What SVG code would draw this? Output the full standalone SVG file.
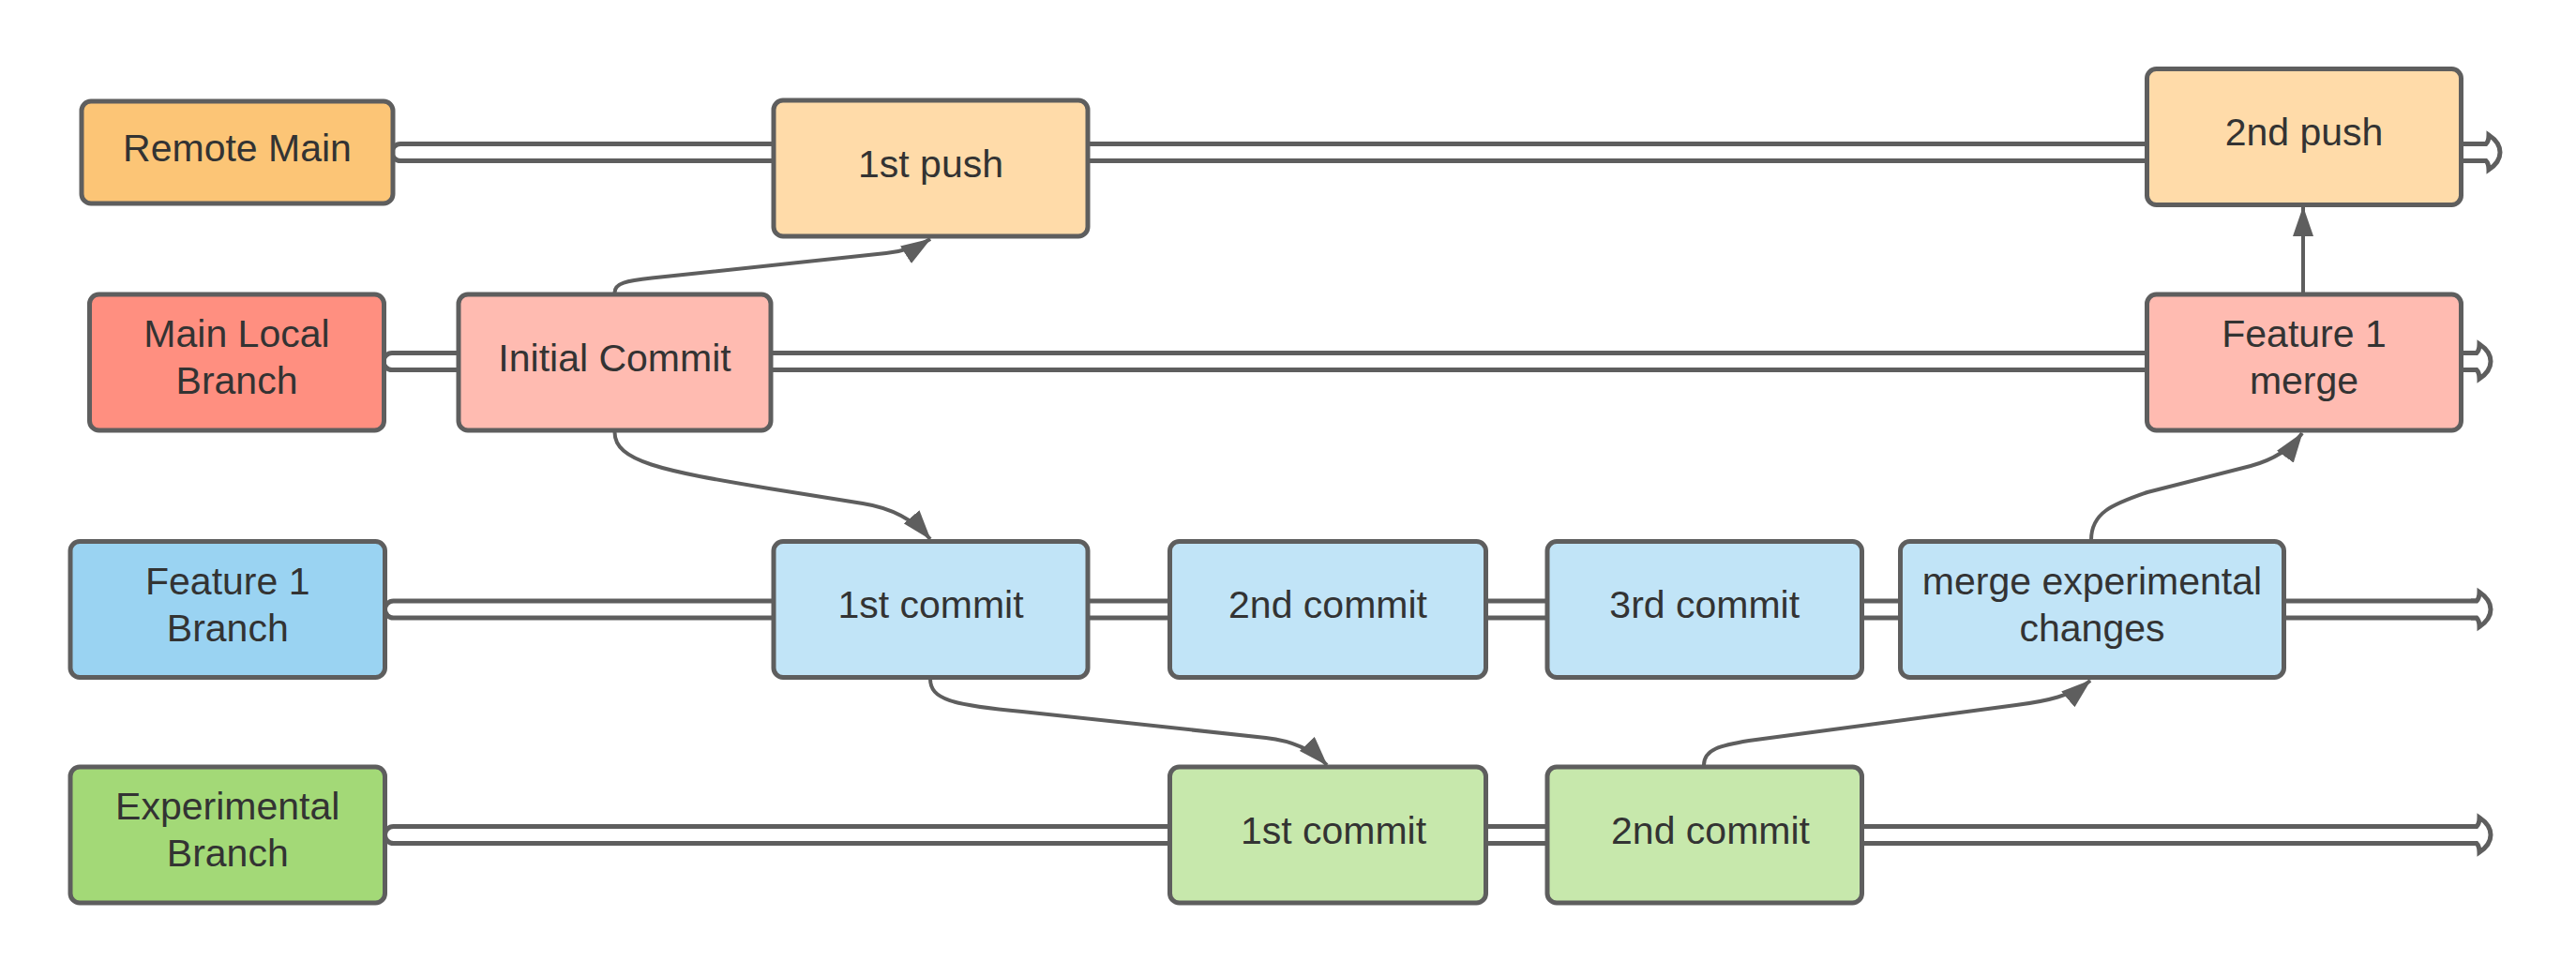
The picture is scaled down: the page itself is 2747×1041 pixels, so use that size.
<svg xmlns="http://www.w3.org/2000/svg" width="2747" height="1041" viewBox="0 0 2747 1041">
<style>
.node{stroke:#5e5e5e;stroke-width:5}
.lbl{font-family:"Liberation Sans",Arial,sans-serif;font-size:41px;fill:#333333;text-anchor:middle}
.rail-o{stroke:#5e5e5e;stroke-width:23;stroke-linecap:round;fill:none}
.rail-i{stroke:#ffffff;stroke-width:13;stroke-linecap:round;fill:none}
.head{fill:#ffffff;stroke:#5e5e5e;stroke-width:5;stroke-linejoin:miter}
.conn{fill:none;stroke:#5e5e5e;stroke-width:4;marker-end:url(#arr)}
.orD{fill:#FCC576}.orL{fill:#FFDBA9}
.rdD{fill:#FF8F80}.rdL{fill:#FFBBB1}
.blD{fill:#9AD3F2}.blL{fill:#C1E4F7}
.grD{fill:#A3D977}.grL{fill:#C7E8AC}
</style>
<defs>
<marker id="arr" markerUnits="userSpaceOnUse" viewBox="0 0 32 22" markerWidth="32" markerHeight="22" refX="31" refY="11" orient="auto">
<path d="M0 0 L32 11 L0 22 Z" fill="#5e5e5e"/>
</marker>
</defs>
<rect width="2747" height="1041" fill="#ffffff"/>
<g id="connectors">
<line class="rail-o" x1="427" y1="162.5" x2="2651" y2="162.5"/>
<line class="rail-i" x1="427" y1="162.5" x2="2651" y2="162.5"/>
<path class="head" d="M2645 153.5 L2651 153.5 Q2654 150.5 2654 144 Q2666 152 2666 162.5 Q2666 173 2654 181 Q2654 174.5 2651 171.5 L2645 171.5"/>
<line class="rail-o" x1="418" y1="385.5" x2="2641" y2="385.5"/>
<line class="rail-i" x1="418" y1="385.5" x2="2641" y2="385.5"/>
<path class="head" d="M2635 376.5 L2641 376.5 Q2644 373.5 2644 367 Q2656 375 2656 385.5 Q2656 396 2644 404 Q2644 397.5 2641 394.5 L2635 394.5"/>
<line class="rail-o" x1="419.5" y1="650" x2="2641" y2="650"/>
<line class="rail-i" x1="419.5" y1="650" x2="2641" y2="650"/>
<path class="head" d="M2635 641 L2641 641 Q2644 638 2644 631.5 Q2656 639.5 2656 650 Q2656 660.5 2644 668.5 Q2644 662 2641 659 L2635 659"/>
<line class="rail-o" x1="419.5" y1="890.5" x2="2641" y2="890.5"/>
<line class="rail-i" x1="419.5" y1="890.5" x2="2641" y2="890.5"/>
<path class="head" d="M2635 881.5 L2641 881.5 Q2644 878.5 2644 872 Q2656 880 2656 890.5 Q2656 901 2644 909 Q2644 902.5 2641 899.5 L2635 899.5"/>
<path class="conn" d="M655.5 312 C655.5 302 668 299.5 695 296.5 L945 270 C962 268 978 264 992 255"/>
<path class="conn" d="M655.5 461 C655.5 492 705 502 820 521 L920 537 C952 542 976 556 992 575"/>
<path class="conn" d="M992 724 C992 746 1015 752 1090 759 L1350 787 C1377 790 1400 800 1415 816"/>
<path class="conn" d="M1817 816 C1817 799 1835 795 1865 790 L2150 752 C2182 748 2210 742 2229 726"/>
<path class="conn" d="M2230 576 C2230 547 2252 538 2290 525 L2400 497 C2422 491 2442 480 2455 462"/>
<path class="conn" d="M2456 312 L2456 221"/>
</g>
<g id="remote-main"><rect class="node orD" x="87" y="108" width="332" height="109" rx="10"/><text class="lbl" x="253" y="171.5">Remote Main</text></g>
<g id="first-push"><rect class="node orL" x="825" y="107" width="335" height="145" rx="10"/><text class="lbl" x="992.5" y="188.5">1st push</text></g>
<g id="second-push"><rect class="node orL" x="2289.5" y="73.5" width="335" height="145" rx="10"/><text class="lbl" x="2457" y="155">2nd push</text></g>
<g id="main-local"><rect class="node rdD" x="95.5" y="314" width="314" height="145" rx="10"/><text class="lbl" x="252.5" y="370">Main Local</text><text class="lbl" x="252.5" y="420">Branch</text></g>
<g id="initial-commit"><rect class="node rdL" x="489" y="314" width="333" height="145" rx="10"/><text class="lbl" x="655.5" y="395.5">Initial Commit</text></g>
<g id="feature1-merge"><rect class="node rdL" x="2289.5" y="314" width="335" height="145" rx="10"/><text class="lbl" x="2457" y="370">Feature 1</text><text class="lbl" x="2457" y="420">merge</text></g>
<g id="feature1-branch"><rect class="node blD" x="75" y="577.5" width="335.5" height="145" rx="10"/><text class="lbl" x="242.75" y="633.5">Feature 1</text><text class="lbl" x="242.75" y="683.5">Branch</text></g>
<g id="f-commit1"><rect class="node blL" x="825" y="577.5" width="335" height="145" rx="10"/><text class="lbl" x="992.5" y="659">1st commit</text></g>
<g id="f-commit2"><rect class="node blL" x="1247.5" y="577.5" width="337" height="145" rx="10"/><text class="lbl" x="1416" y="659">2nd commit</text></g>
<g id="f-commit3"><rect class="node blL" x="1650" y="577.5" width="335.5" height="145" rx="10"/><text class="lbl" x="1817.75" y="659">3rd commit</text></g>
<g id="merge-experimental"><rect class="node blL" x="2026.5" y="577.5" width="409" height="145" rx="10"/><text class="lbl" x="2231" y="633.5">merge experimental</text><text class="lbl" x="2231" y="683.5">changes</text></g>
<g id="experimental-branch"><rect class="node grD" x="75" y="818" width="335.5" height="145" rx="10"/><text class="lbl" x="242.75" y="874">Experimental</text><text class="lbl" x="242.75" y="924">Branch</text></g>
<g id="e-commit1"><rect class="node grL" x="1247.5" y="818" width="337" height="145" rx="10"/><text class="lbl" x="1422" y="899.5">1st commit</text></g>
<g id="e-commit2"><rect class="node grL" x="1650" y="818" width="335.5" height="145" rx="10"/><text class="lbl" x="1824" y="899.5">2nd commit</text></g>
</svg>
